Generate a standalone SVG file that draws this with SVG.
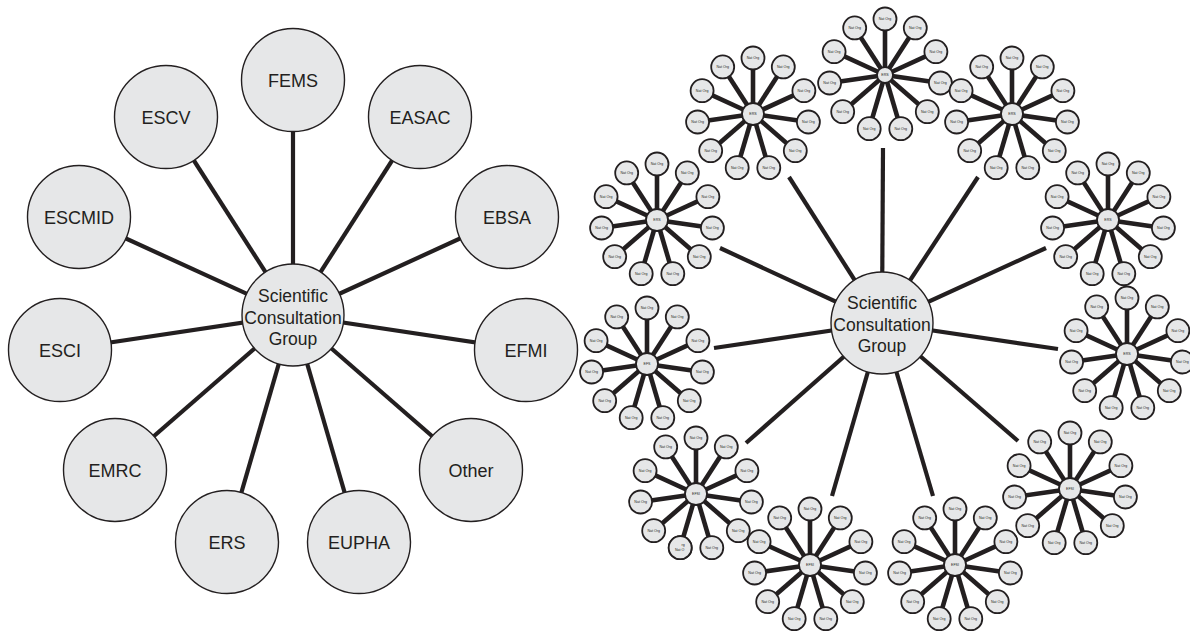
<svg xmlns="http://www.w3.org/2000/svg" xmlns:xlink="http://www.w3.org/1999/xlink" width="1190" height="634" viewBox="0 0 1190 634">
<style>
.bg{fill:#ffffff}
.big{fill:#e6e7e8;stroke:#231f20;stroke-width:1.4}
.lbl{font-family:"Liberation Sans",Arial,Helvetica,sans-serif;font-size:18px;fill:#231f20;text-anchor:middle}
.ctr{font-family:"Liberation Sans",Arial,Helvetica,sans-serif;font-size:17.5px;fill:#231f20;text-anchor:middle}
.conn{stroke:#231f20;stroke-width:4.2;stroke-linecap:butt;fill:none}
.spoke{stroke:#231f20;stroke-width:4.6;fill:none}
.sat{fill:#e6e7e8;stroke:#231f20;stroke-width:1.8}
.tiny{font-family:"Liberation Sans",Arial,Helvetica,sans-serif;font-size:3.6px;fill:#231f20;text-anchor:middle}
</style>
<defs>
<g id="sats">
<g class="spoke">
<line x1="0" y1="0" x2="0" y2="-56"/>
<line x1="0" y1="0" x2="30.3" y2="-47.1"/>
<line x1="0" y1="0" x2="50.9" y2="-23.3"/>
<line x1="0" y1="0" x2="55.4" y2="8"/>
<line x1="0" y1="0" x2="42.3" y2="36.7"/>
<line x1="0" y1="0" x2="15.8" y2="53.7"/>
<line x1="0" y1="0" x2="-15.8" y2="53.7"/>
<line x1="0" y1="0" x2="-42.3" y2="36.7"/>
<line x1="0" y1="0" x2="-55.4" y2="8"/>
<line x1="0" y1="0" x2="-50.9" y2="-23.3"/>
<line x1="0" y1="0" x2="-30.3" y2="-47.1"/>
</g>
<circle class="sat" cx="0" cy="-56" r="11.5"/><text class="tiny" x="0" y="-54.7">Nat Org</text>
<circle class="sat" cx="30.3" cy="-47.1" r="11.5"/><text class="tiny" x="30.3" y="-45.8">Nat Org</text>
<circle class="sat" cx="50.9" cy="-23.3" r="11.5"/><text class="tiny" x="50.9" y="-22">Nat Org</text>
<circle class="sat" cx="55.4" cy="8" r="11.5"/><text class="tiny" x="55.4" y="9.3">Nat Org</text>
<circle class="sat" cx="42.3" cy="36.7" r="11.5"/><text class="tiny" x="42.3" y="38">Nat Org</text>
<circle class="sat" cx="15.8" cy="53.7" r="11.5"/><text class="tiny" x="15.8" y="55">Nat Org</text>
<circle class="sat" cx="-15.8" cy="53.7" r="11.5"/><text class="tiny" x="-15.8" y="55">Nat Org</text>
<circle class="sat" cx="-42.3" cy="36.7" r="11.5"/><text class="tiny" x="-42.3" y="38">Nat Org</text>
<circle class="sat" cx="-55.4" cy="8" r="11.5"/><text class="tiny" x="-55.4" y="9.3">Nat Org</text>
<circle class="sat" cx="-50.9" cy="-23.3" r="11.5"/><text class="tiny" x="-50.9" y="-22">Nat Org</text>
<circle class="sat" cx="-30.3" cy="-47.1" r="11.5"/><text class="tiny" x="-30.3" y="-45.8">Nat Org</text>
</g>
</defs>
<rect class="bg" x="0" y="0" width="1190" height="634"/>

<g id="connectors">
<g id="left-connectors" class="conn">
<line x1="293" y1="315" x2="293" y2="80"/>
<line x1="293" y1="315" x2="166" y2="117"/>
<line x1="293" y1="315" x2="420" y2="117"/>
<line x1="293" y1="315" x2="79" y2="217"/>
<line x1="293" y1="315" x2="507" y2="217"/>
<line x1="293" y1="315" x2="60" y2="350"/>
<line x1="293" y1="315" x2="526" y2="350"/>
<line x1="293" y1="315" x2="115" y2="470"/>
<line x1="293" y1="315" x2="471" y2="470"/>
<line x1="293" y1="315" x2="227" y2="542"/>
<line x1="293" y1="315" x2="359" y2="542"/>
</g>
<g id="right-connectors" class="conn">
<line x1="882" y1="323" x2="883" y2="148"/>
<line x1="882" y1="323" x2="789" y2="177"/>
<line x1="882" y1="323" x2="978" y2="177"/>
<line x1="882" y1="323" x2="720" y2="248"/>
<line x1="882" y1="323" x2="1046" y2="248"/>
<line x1="882" y1="323" x2="714" y2="348"/>
<line x1="882" y1="323" x2="1058" y2="349"/>
<line x1="882" y1="323" x2="746" y2="443"/>
<line x1="882" y1="323" x2="1018" y2="441"/>
<line x1="882" y1="323" x2="832" y2="496"/>
<line x1="882" y1="323" x2="933" y2="496"/>
</g>
</g>

<g id="left-center"><circle class="big" cx="293" cy="315" r="51"/>
<text class="ctr" x="293" y="302">Scientific</text><text class="ctr" x="293" y="323.5">Consultation</text><text class="ctr" x="293" y="345">Group</text></g>
<g id="node-fems"><circle class="big" cx="293" cy="80" r="51.5"/><text class="lbl" x="293" y="87">FEMS</text></g>
<g id="node-escv"><circle class="big" cx="166" cy="117" r="51.5"/><text class="lbl" x="166" y="124">ESCV</text></g>
<g id="node-easac"><circle class="big" cx="420" cy="117" r="51.5"/><text class="lbl" x="420" y="124">EASAC</text></g>
<g id="node-escmid"><circle class="big" cx="79" cy="217" r="51.5"/><text class="lbl" x="79" y="224">ESCMID</text></g>
<g id="node-ebsa"><circle class="big" cx="507" cy="217" r="51.5"/><text class="lbl" x="507" y="224">EBSA</text></g>
<g id="node-esci"><circle class="big" cx="60" cy="350" r="51.5"/><text class="lbl" x="60" y="357">ESCI</text></g>
<g id="node-efmi"><circle class="big" cx="526" cy="350" r="51.5"/><text class="lbl" x="526" y="357">EFMI</text></g>
<g id="node-emrc"><circle class="big" cx="115" cy="470" r="51.5"/><text class="lbl" x="115" y="477">EMRC</text></g>
<g id="node-other"><circle class="big" cx="471" cy="470" r="51.5"/><text class="lbl" x="471" y="477">Other</text></g>
<g id="node-ers"><circle class="big" cx="227" cy="542" r="51.5"/><text class="lbl" x="227" y="549">ERS</text></g>
<g id="node-eupha"><circle class="big" cx="359" cy="542" r="51.5"/><text class="lbl" x="359" y="549">EUPHA</text></g>

<g id="right-center"><circle class="big" cx="882" cy="323" r="51"/>
<text class="ctr" x="882" y="308.5">Scientific</text><text class="ctr" x="882" y="330.5">Consultation</text><text class="ctr" x="882" y="351.5">Group</text></g>

<g id="cluster-top" transform="translate(885,75)"><use xlink:href="#sats"/><circle class="sat" r="8"/><text class="tiny" y="1.2">ERS</text></g>
<g id="cluster-top-left" transform="translate(753,114)"><use xlink:href="#sats"/><circle class="sat" r="11"/><text class="tiny" y="1.2">ERS</text></g>
<g id="cluster-top-right" transform="translate(1012,114)"><use xlink:href="#sats"/><circle class="sat" r="11"/><text class="tiny" y="1.2">ERS</text></g>
<g id="cluster-left-upper" transform="translate(657,220)"><use xlink:href="#sats"/><circle class="sat" r="11"/><text class="tiny" y="1.2">ERS</text></g>
<g id="cluster-right-upper" transform="translate(1108,220)"><use xlink:href="#sats"/><circle class="sat" r="11"/><text class="tiny" y="1.2">ERS</text></g>
<g id="cluster-left-middle" transform="translate(647,364)"><use xlink:href="#sats"/><circle class="sat" r="11"/><text class="tiny" y="1.2">EFS</text></g>
<g id="cluster-right-middle" transform="translate(1127,354)"><use xlink:href="#sats"/><circle class="sat" r="11"/><text class="tiny" y="1.2">ERS</text></g>
<g id="cluster-bottom-left" transform="translate(696,494)"><use xlink:href="#sats"/><circle class="sat" r="11"/><text class="tiny" y="1.2">EFSI</text>
<circle class="sat" cx="-15.8" cy="53.7" r="11.5"/><text class="tiny" x="-12.8" y="51.5">rg</text><text class="tiny" x="-16.3" y="57">Nat O</text></g>
<g id="cluster-bottom-right" transform="translate(1070,489)"><use xlink:href="#sats"/><circle class="sat" r="11"/><text class="tiny" y="1.2">EFSI</text></g>
<g id="cluster-bottom-a" transform="translate(810,565)"><use xlink:href="#sats"/><circle class="sat" r="11"/><text class="tiny" y="1.2">EFSI</text></g>
<g id="cluster-bottom-b" transform="translate(955,565)"><use xlink:href="#sats"/><circle class="sat" r="11"/><text class="tiny" y="1.2">EFSI</text></g>
</svg>
